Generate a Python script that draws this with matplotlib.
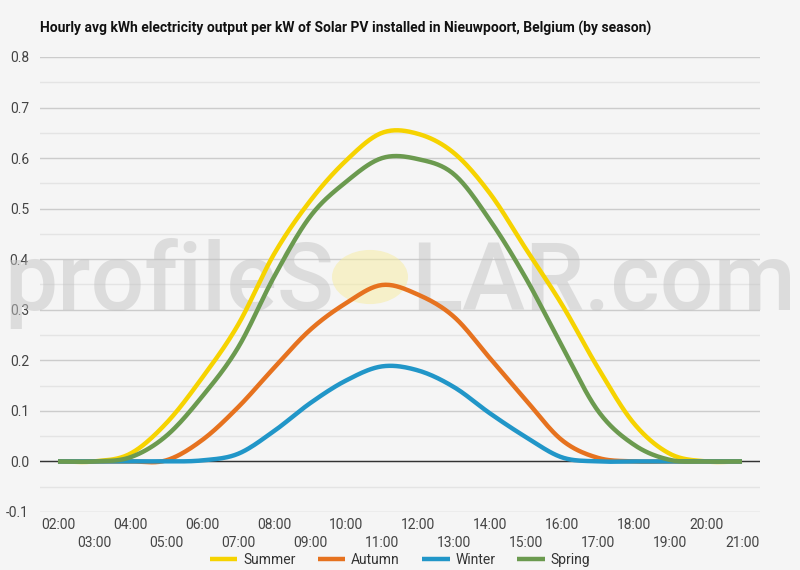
import numpy as np
import matplotlib
matplotlib.use("Agg")
import matplotlib.pyplot as plt
from matplotlib.patches import Circle

plt.rcParams['font.family'] = ['Roboto', 'DejaVu Sans']

# data
hours = ["02:00", "03:00", "04:00", "05:00", "06:00", "07:00", "08:00", "09:00",
         "10:00", "11:00", "12:00", "13:00", "14:00", "15:00", "16:00", "17:00",
         "18:00", "19:00", "20:00", "21:00"]
summer = [0, 0, 0.015, 0.075, 0.165, 0.27, 0.41, 0.515, 0.595, 0.65,
          0.648, 0.61, 0.53, 0.42, 0.31, 0.185, 0.075, 0.015, 0, 0]
autumn = [0, 0, 0, 0.002, 0.042, 0.107, 0.185, 0.26, 0.313, 0.349,
          0.33, 0.286, 0.204, 0.121, 0.042, 0.007, 0, 0, 0, 0]
winter = [0, 0, 0, 0, 0.002, 0.015, 0.06, 0.115, 0.16, 0.188,
          0.18, 0.147, 0.095, 0.048, 0.008, 0, 0, 0, 0, 0]
spring = [0, 0, 0.008, 0.05, 0.128, 0.225, 0.365, 0.484, 0.553, 0.60,
          0.598, 0.568, 0.477, 0.362, 0.228, 0.1, 0.033, 0.003, 0, 0]

series = [("Summer", summer, "#f6d300"),
          ("Autumn", autumn, "#e6721f"),
          ("Winter", winter, "#2196c8"),
          ("Spring", spring, "#6b9a4f")]


def smooth(y, steps=20):
    # catmull-rom curve through the points, like the "function" curve type
    y = np.asarray(y, dtype=float)
    p = np.concatenate([[y[0]], y, [y[-1]]])
    xs, ys = [], []
    t = np.linspace(0, 1, steps, endpoint=False)
    for i in range(len(y) - 1):
        p0, p1, p2, p3 = p[i], p[i + 1], p[i + 2], p[i + 3]
        yy = 0.5 * ((2 * p1) + (-p0 + p2) * t + (2 * p0 - 5 * p1 + 4 * p2 - p3) * t ** 2
                    + (-p0 + 3 * p1 - 3 * p2 + p3) * t ** 3)
        xs.append(i + t)
        ys.append(yy)
    xs.append([len(y) - 1])
    ys.append([y[-1]])
    return np.concatenate(xs), np.concatenate(ys)


bg = "#f5f5f5"
fig = plt.figure(figsize=(8, 5.7), dpi=100, facecolor=bg)
ax = fig.add_axes([0.05, 0.1018, 0.9, 0.7982])
ax.set_facecolor(bg)

# watermark, behind the lines and see-through
wm = dict(transform=fig.transFigure, fontsize=68, color="#c4c4c4", alpha=0.5, va="baseline",
          zorder=1, clip_on=False, fontweight="medium")
ax.text(0.005, 1 - 310 / 570, "profileS", ha="left", **wm)
ax.text(0.995, 1 - 310 / 570, "LAR.com", ha="right", **wm)
ax.add_patch(Circle((370 / 800, 1 - 277 / 570), 38 / 800, transform=fig.transFigure,
                    facecolor="#f7ec9e", edgecolor="none", alpha=0.5, zorder=1.1,
                    clip_on=False))

for name, vals, col in series:
    sx, sy = smooth(vals)
    ax.plot(sx, sy, color=col, lw=3.2, label=name, solid_capstyle="butt", zorder=3)

ax.set_xlim(-0.5, len(hours) - 0.5)
ax.set_ylim(-0.1, 0.8)
ax.set_yticks(np.arange(-0.1, 0.81, 0.1))
ax.set_yticklabels([f"{v:.1f}" for v in np.arange(-0.1, 0.81, 0.1)])
ax.set_yticks(np.arange(-0.05, 0.8, 0.1), minor=True)
ax.grid(axis="y", which="major", color="#cccccc", lw=1)
ax.grid(axis="y", which="minor", color="#e4e4e4", lw=1)
ax.axhline(0, color="#333333", lw=1, zorder=2)
ax.set_axisbelow(True)

pos = np.arange(len(hours))
ax.set_xticks(pos[::2])
ax.set_xticklabels(hours[::2])
ax.set_xticks(pos[1::2], minor=True)
ax.set_xticklabels(hours[1::2], minor=True)
ax.tick_params(axis="x", which="major", length=0, pad=4, labelsize=10, labelcolor="#444444")
ax.tick_params(axis="x", which="minor", length=0, pad=17, labelsize=10, labelcolor="#444444")
ax.tick_params(axis="y", which="both", length=0, pad=8, labelsize=10, labelcolor="#444444")
for s in ax.spines.values():
    s.set_visible(False)

fig.text(0.05, 1 - 33 / 570, "Hourly avg kWh electricity output per kW of Solar PV installed in "
         "Nieuwpoort, Belgium (by season)", fontsize=10, fontweight="bold", color="#111111")

leg = fig.legend(loc="lower center", bbox_to_anchor=(0.5, -0.016), ncol=4, frameon=False,
                 fontsize=10, handlelength=2.0, columnspacing=1.6, handletextpad=0.4)
for t in leg.get_texts():
    t.set_color("#333333")

fig.savefig("out.png", dpi=100, facecolor=bg)
